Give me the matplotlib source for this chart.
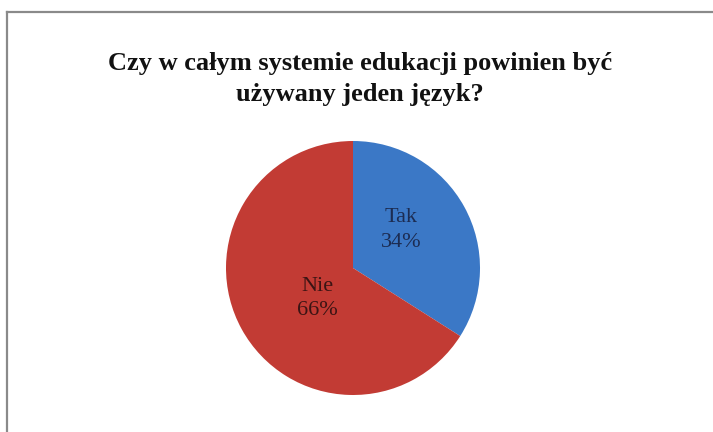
import matplotlib
matplotlib.use('Agg')
import matplotlib.pyplot as plt
from matplotlib.lines import Line2D

# Survey answers
categories = ['Tak', 'Nie']
shares = [34, 66]
colors = ['#3b78c6', '#c23b34']
text_colors = ['#1c2c52', '#3b1414']
title = 'Czy w całym systemie edukacji powinien być\nużywany jeden język?'

W, H = 713, 432
fig = plt.figure(figsize=(W / 100, H / 100), dpi=100)
fig.patch.set_facecolor('white')

# chart frame: only top and left edges are visible
fig.add_artist(Line2D([6.5 / W, 6.5 / W], [0, 1 - 11.5 / H], transform=fig.transFigure,
                      color='#8a8a8a', lw=1.6))
fig.add_artist(Line2D([6.5 / W, 1], [1 - 11.5 / H, 1 - 11.5 / H], transform=fig.transFigure,
                      color='#8a8a8a', lw=1.6))

fig.text(360 / W, 1 - 79 / H, title, ha='center', va='center', fontsize=19,
         fontweight='bold', family='Liberation Serif', color='#111111', linespacing=1.45)

# pie axes: centre (353, 268), radius 127 px
cx, cy, r = 353, 268, 127
ax = fig.add_axes([(cx - r) / W, (H - cy - r) / H, 2 * r / W, 2 * r / H])

it = iter(categories)
wedges, _, autotexts = ax.pie(shares, colors=colors, startangle=90, counterclock=False,
                              autopct=lambda p: f'{next(it)}\n{p:.0f}%', pctdistance=0.46,
                              wedgeprops=dict(edgecolor='none'))

# best-fit style placement of the inside labels
label_pos = [(0.38, 0.30), (-0.28, -0.24)]
for t, c, pos in zip(autotexts, text_colors, label_pos):
    t.set_family('Liberation Serif')
    t.set_fontsize(16)
    t.set_color(c)
    t.set_linespacing(1.4)
    t.set_position(pos)
ax.set_xlim(-1, 1)
ax.set_ylim(-1, 1)

fig.savefig('out.png', dpi=100)
